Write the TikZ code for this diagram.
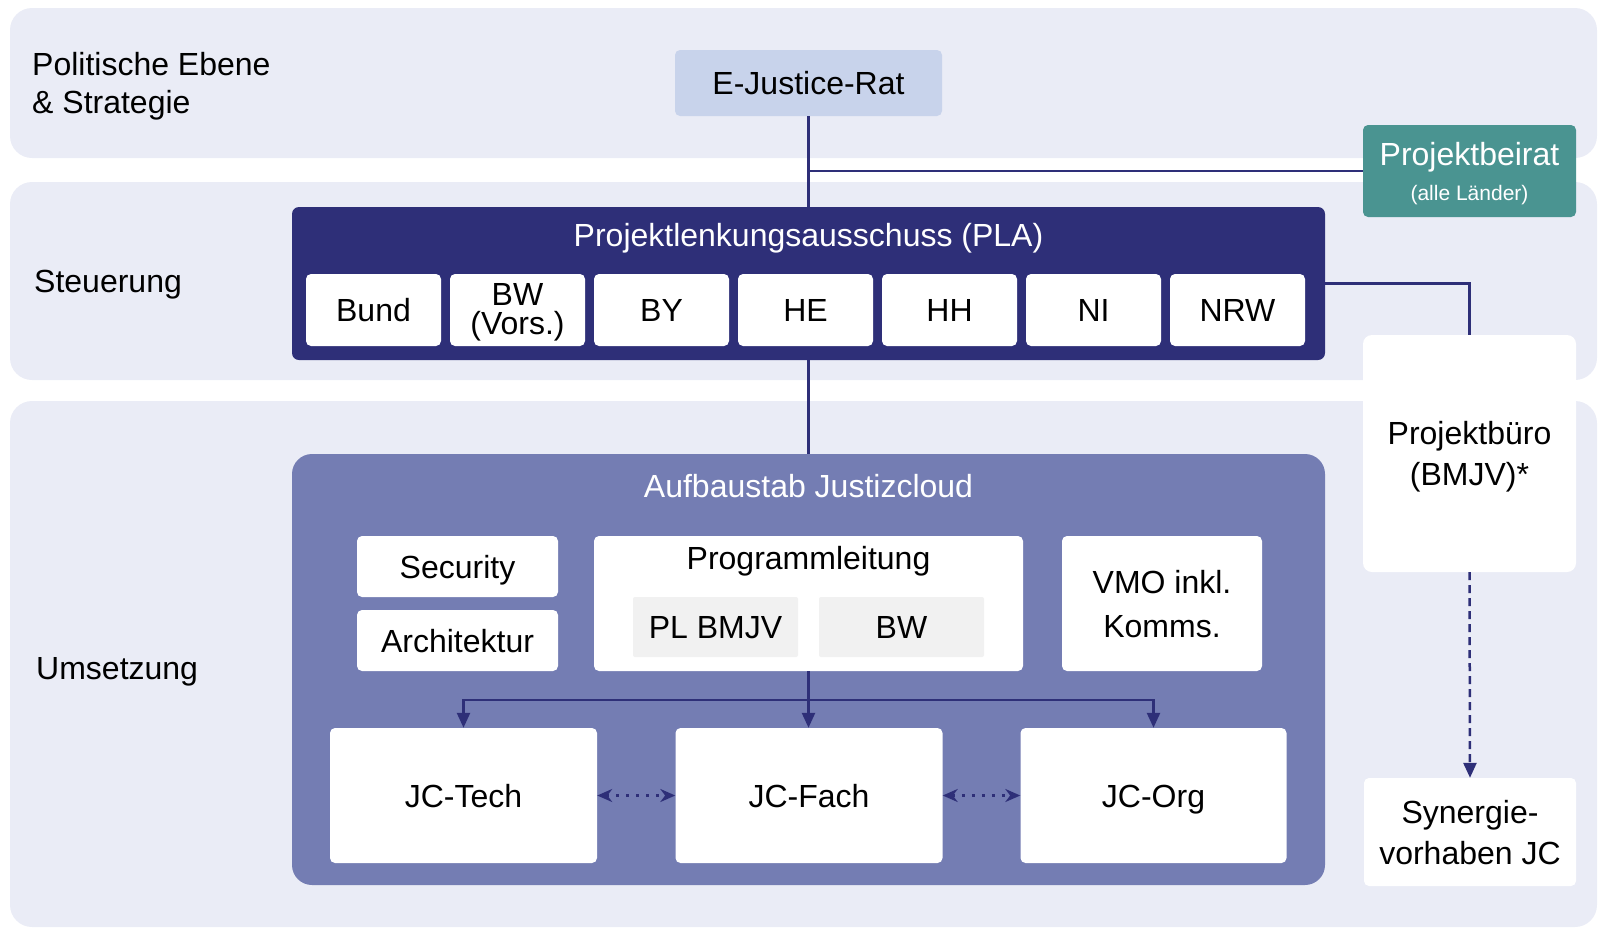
\documentclass[tikz,border=0pt]{standalone}
\usepackage{fontspec}
\setmainfont{Liberation Sans}
\usetikzlibrary{arrows.meta}

\definecolor{bandbg}{HTML}{EAECF6}
\definecolor{ratblue}{HTML}{C8D3EB}
\definecolor{navy}{HTML}{2E2F78}
\definecolor{stabblue}{HTML}{747DB3}
\definecolor{beiratteal}{HTML}{4A9491}
\definecolor{subgrey}{HTML}{F1F1F1}

\begin{document}
\begin{tikzpicture}[x=1pt, y=-1pt, >={Triangle[length=15pt,width=13pt]},
  band/.style={
  % The shape:
  rectangle, rounded corners=22pt,
  % The fill
  fill=bandbg, inner sep=0pt},
  box/.style={
  % The shape:
  rectangle, rounded corners=5pt,
  % The fill and text
  fill=white, inner sep=0pt,
      align=center, font=\fontsize{32}{41}\selectfont,
      text height=23pt, text depth=0pt},
  level/.style={anchor=west, align=left, inner sep=0pt,
      font=\fontsize{32}{38}\selectfont, text height=23pt, text depth=0pt},
  title/.style={text=white, inner sep=0pt, font=\fontsize{32}{38}\selectfont,
      text height=23pt, text depth=0pt},
  link/.style={draw=navy, line width=2.5pt}]
  \useasboundingbox (0,0) rectangle (1603,929);

  % bands
  \node [band, minimum width=1587pt, minimum height=150pt] (ebene) at (803.5,83) {};
  \node [band, minimum width=1587pt, minimum height=198pt] (steuer) at (803.5,281) {};
  \node [band, minimum width=1587pt, minimum height=526pt] (umsetz) at (803.5,664) {};

  \node [level, text height=61pt] (lpolitik) at (32,83) {Politische Ebene\\ \& Strategie};
  \node [level] (lsteuer) at (34,281) {Steuerung};
  \node [level] (lumsetz) at (36,668) {Umsetzung};

  % politische Ebene
  \node [box, fill=ratblue, minimum width=267pt, minimum height=66pt] (rat) at (808.5,83) {E-Justice-Rat};
  \node [box, fill=beiratteal, text=white, minimum width=213pt, minimum height=92pt, text height=58pt] (beirat) at (1469.5,171)
    {Projektbeirat\\[-6pt] {\fontsize{21}{25}\selectfont (alle L\"ander)}};

  % Steuerung
  \node [box, fill=navy, rounded corners=7pt, minimum width=1033pt, minimum height=153pt] (pla) at (808.5,283.5) {};
  \node [title] (platitle) at (808.5,235) {Projektlenkungsausschuss (PLA)};
  \node [box, minimum width=135pt, minimum height=72pt] (bund) at (373.5,310) {Bund};
  \node [box, minimum width=135pt, minimum height=72pt, font=\fontsize{32}{29}\selectfont, text height=48pt] (bw) at (517.5,310) {BW\\ (Vors.)};
  \node [box, minimum width=135pt, minimum height=72pt] (by) at (661.5,310) {BY};
  \node [box, minimum width=135pt, minimum height=72pt] (he) at (805.5,310) {HE};
  \node [box, minimum width=135pt, minimum height=72pt] (hh) at (949.5,310) {HH};
  \node [box, minimum width=135pt, minimum height=72pt] (ni) at (1093.5,310) {NI};
  \node [box, minimum width=135pt, minimum height=72pt] (nrw) at (1237.5,310) {NRW};

  \node [box, rounded corners=9pt, minimum width=213pt, minimum height=237pt, text height=64pt] (buero) at (1469.5,453.5) {Projektb\"uro\\ (BMJV)*};
  \node [box, minimum width=212pt, minimum height=108pt, text height=64pt] (synergie) at (1470,832) {Synergie-\\ vorhaben JC};

  % Umsetzung
  \node [box, fill=stabblue, rounded corners=20pt, minimum width=1033pt, minimum height=431pt] (aufbau) at (808.5,669.5) {};
  \node [title] (aufbautitle) at (808.5,486) {Aufbaustab Justizcloud};
  \node [box, minimum width=201pt, minimum height=61pt] (security) at (457.5,566.5) {Security};
  \node [box, minimum width=201pt, minimum height=61pt] (architektur) at (457.5,640.5) {Architektur};
  \node [box, minimum width=429pt, minimum height=135pt] (prog) at (808.5,603.5) {};
  \node [inner sep=0pt, font=\fontsize{32}{38}\selectfont, text height=23pt, text depth=0pt] (progtitle) at (808.5,558) {Programmleitung};
  \node [box, fill=subgrey, rounded corners=2pt, minimum width=165pt, minimum height=60pt] (plbmjv) at (715.5,627) {PL BMJV};
  \node [box, fill=subgrey, rounded corners=2pt, minimum width=165pt, minimum height=60pt] (progbw) at (901.5,627) {BW};
  \node [box, minimum width=200pt, minimum height=135pt, font=\fontsize{32}{44}\selectfont, text height=67pt] (vmo) at (1162,603.5) {VMO inkl.\\ Komms.};
  \node [box, minimum width=267pt, minimum height=135pt] (jctech) at (463.5,795.5) {JC-Tech};
  \node [box, minimum width=267pt, minimum height=135pt] (jcfach) at (809,795.5) {JC-Fach};
  \node [box, minimum width=266pt, minimum height=135pt] (jcorg) at (1153.5,795.5) {JC-Org};
  \coordinate (split) at (808.5,700);

  \draw [link] (rat.south) -- (pla.north);
  \draw [link] (rat.south |- beirat.west) -- (beirat.west);
  \draw [link] (pla.east) -| (buero.north);
  \draw [link] (pla.south) -- (aufbau.north);
  \draw [link, dash pattern=on 8pt off 5pt, ->] (buero.south) -- (synergie.north);

  \draw [link, ->] (prog.south) -- (prog.south |- jcfach.north);
  \draw [link, ->] (split) -| (jctech.north);
  \draw [link, ->] (split) -| (jcorg.north);
  \draw [link, dash pattern=on 3pt off 7pt, {Stealth[length=15pt,width=13pt]}-{Stealth[length=15pt,width=13pt]}] (jctech.east) -- (jcfach.west);
  \draw [link, dash pattern=on 3pt off 7pt, {Stealth[length=15pt,width=13pt]}-{Stealth[length=15pt,width=13pt]}] (jcfach.east) -- (jcorg.west);

\end{tikzpicture}
\end{document}
